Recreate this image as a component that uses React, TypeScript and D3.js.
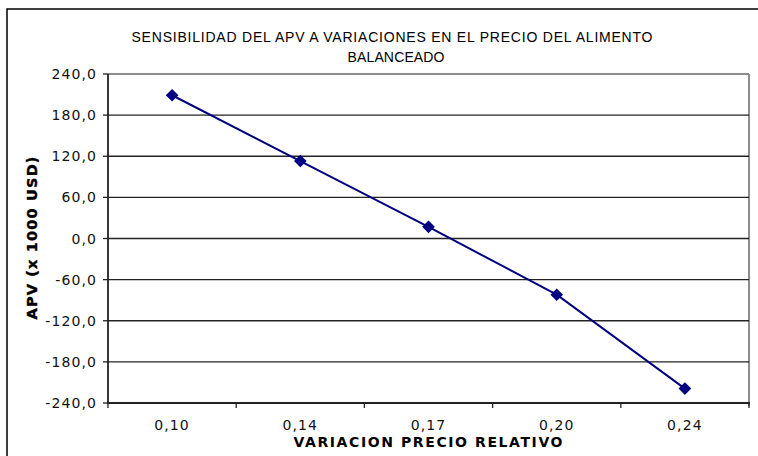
import React from "react";
import * as d3 from "d3";

// Relative price variation (categories) and APV in thousands of USD
const categories = ["0,10", "0,14", "0,17", "0,20", "0,24"];
const apvValues = [209, 113, 17, -82, -219];
const yTicks = [-240, -180, -120, -60, 0, 60, 120, 180, 240];

const titleLines = [
  "SENSIBILIDAD DEL APV A VARIACIONES  EN EL PRECIO DEL ALIMENTO",
  "BALANCEADO",
];
const yTitle = "APV (x 1000 USD)";
const xTitle = "VARIACION PRECIO RELATIVO";

const W = 758;
const H = 456;
const plot = { left: 108, right: 749, top: 74, bottom: 403 };

const fmt = (v: number) => d3.format(".1f")(v).replace(".", ",").replace("−", "-");

export default function App() {
  const x = d3
    .scaleBand<string>()
    .domain(categories)
    .range([plot.left, plot.right])
    .padding(0);
  const y = d3.scaleLinear().domain([-240, 240]).range([plot.bottom, plot.top]);

  const pts = categories.map((c, i) => [x(c)! + x.bandwidth() / 2, y(apvValues[i])] as [number, number]);
  const line = d3.line()(pts) || "";
  const diamond = d3.symbol().type(d3.symbolSquare).size(80)() || "";

  const boundaries = categories.map((c) => x(c)!).concat([plot.right]);

  return (
    <svg
      width={W}
      height={H}
      style={{ position: "absolute", left: 0, top: 0, background: "#fff" }}
    >
      <rect x={0} y={0} width={W} height={H} fill="#fff" />
      {/* chart frame */}
      <rect x={7} y={9} width={W + 10} height={H + 10} fill="none" stroke="#000" strokeWidth={1.5} />

      {/* title */}
      <text
        x={392}
        y={42}
        textAnchor="middle"
        fontFamily="'Liberation Sans', Arial, sans-serif"
        fontSize={14}
        textLength={521}
        lengthAdjust="spacing"
        fill="#000"
      >
        {titleLines[0]}
      </text>
      <text
        x={396}
        y={62}
        textAnchor="middle"
        fontFamily="'Liberation Sans', Arial, sans-serif"
        fontSize={14}
        textLength={97}
        lengthAdjust="spacing"
        fill="#000"
      >
        {titleLines[1]}
      </text>

      {/* plot border (top / right) */}
      <line x1={plot.left} x2={plot.right} y1={plot.top} y2={plot.top} stroke="#8c8c8c" strokeWidth={2} />
      <line x1={plot.right} x2={plot.right} y1={plot.top} y2={plot.bottom + 3} stroke="#8c8c8c" strokeWidth={2} />

      {/* horizontal gridlines */}
      {yTicks
        .filter((t) => t !== 240 && t !== -240)
        .map((t) => (
          <line key={t} x1={plot.left} x2={plot.right} y1={y(t)} y2={y(t)} stroke="#222" strokeWidth={1.4} />
        ))}

      {/* y axis */}
      <line x1={plot.left} x2={plot.left} y1={plot.top} y2={plot.bottom} stroke="#222" strokeWidth={1.8} />
      {yTicks.map((t) => (
        <g key={t}>
          <line x1={plot.left - 5} x2={plot.left} y1={y(t)} y2={y(t)} stroke="#222" strokeWidth={1.3} />
          <text
            x={97}
            y={y(t) + 5}
            textAnchor="end"
            fontFamily="'DejaVu Sans', sans-serif"
            fontSize={14}
            letterSpacing={1.1}
            fill="#111"
          >
            {fmt(t)}
          </text>
        </g>
      ))}

      {/* x axis */}
      <line x1={plot.left - 1} x2={plot.right + 1} y1={plot.bottom} y2={plot.bottom} stroke="#222" strokeWidth={1.8} />
      {boundaries.map((bx, i) => (
        <line key={i} x1={bx} x2={bx} y1={plot.bottom} y2={plot.bottom + 5} stroke="#222" strokeWidth={1.3} />
      ))}
      {categories.map((c) => (
        <text
          key={c}
          x={x(c)! + x.bandwidth() / 2}
          y={430}
          textAnchor="middle"
          fontFamily="'DejaVu Sans', sans-serif"
          fontSize={14}
          letterSpacing={1.1}
          fill="#111"
        >
          {c}
        </text>
      ))}

      {/* axis titles */}
      <text
        x={428}
        y={447}
        textAnchor="middle"
        fontFamily="'DejaVu Sans', sans-serif"
        fontWeight="bold"
        fontSize={14}
        textLength={269}
        lengthAdjust="spacing"
        fill="#000"
      >
        {xTitle}
      </text>
      <text
        transform={`translate(37, 238) rotate(-90)`}
        textAnchor="middle"
        fontFamily="'DejaVu Sans', sans-serif"
        fontWeight="bold"
        fontSize={14.5}
        textLength={163}
        lengthAdjust="spacing"
        fill="#000"
        stroke="#000"
        strokeWidth={0.4}
      >
        {yTitle}
      </text>

      {/* series */}
      <path d={line} fill="none" stroke="#000080" strokeWidth={2} />
      {pts.map(([px, py], i) => (
        <path key={i} d={diamond} transform={`translate(${px},${py}) rotate(45)`} fill="#000080" />
      ))}
    </svg>
  );
}
